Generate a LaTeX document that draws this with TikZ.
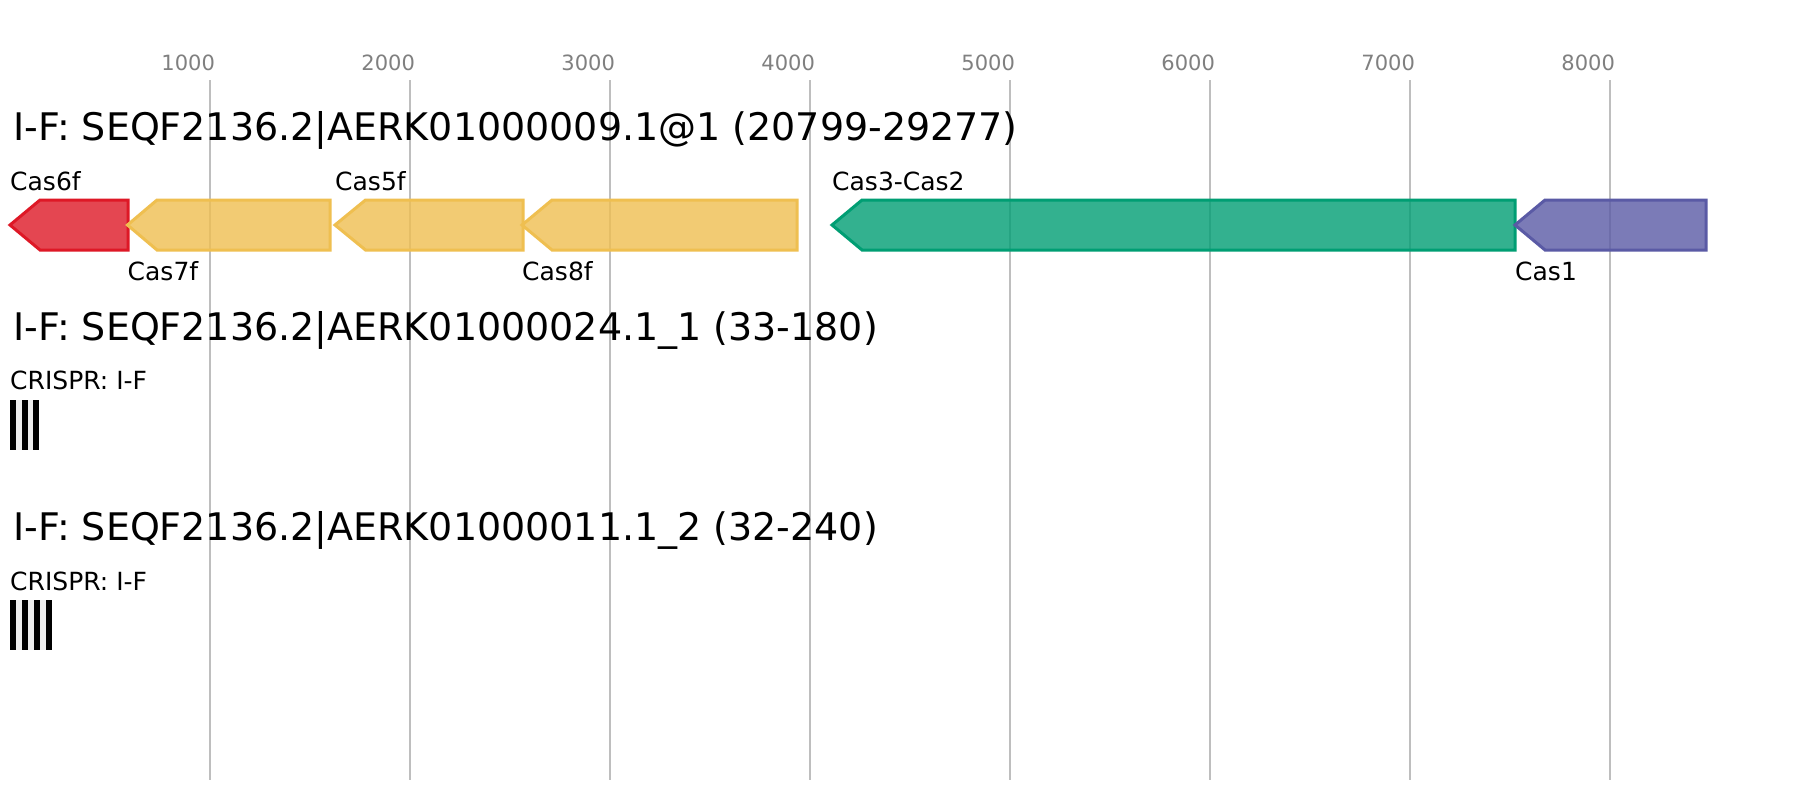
\documentclass[tikz,border=0pt]{standalone}
\usepackage{fontspec}
\setmainfont{DejaVu Sans}
\definecolor{gridc}{RGB}{190,190,190}
\definecolor{tickc}{RGB}{128,128,128}
\definecolor{cred}{RGB}{222,24,38}
\definecolor{cyel}{RGB}{239,191,80}
\definecolor{cgrn}{RGB}{0,158,115}
\definecolor{cblu}{RGB}{90,90,165}
\definecolor{crgray}{RGB}{238,238,238}
\newcommand{\genearrow}[4]{\draw[genebox,draw=#1,fill=#1] (#2,225) -- (#3,200) -- (#4,200) -- (#4,250) -- (#3,250) -- cycle;}
\newcommand{\crbar}[2]{\fill[black] (#1,#2) rectangle ++(6,50);}
\tikzset{
  gridline/.style={draw=gridc,line width=1.8pt},
  ticklbl/.style={anchor=base,inner sep=0pt,text=tickc,font=\fontsize{21}{24}\selectfont},
  titlelbl/.style={anchor=base west,inner sep=0pt,font=\fontsize{38}{42}\selectfont},
  genelbl/.style={anchor=base west,inner sep=0pt,font=\fontsize{25}{28}\selectfont},
  genebox/.style={line width=3pt,fill opacity=0.8,line join=miter}
}
\begin{document}
\begin{tikzpicture}[x=1pt,y=-1pt]
\useasboundingbox (0,0) rectangle (1796,800);
\fill[white] (0,0) rectangle (1796,800);
% grid and ticks
\foreach \k in {1,...,8}{
  \draw[gridline] (9.7+200*\k,80) -- (9.7+200*\k,779.5);
  \node[ticklbl] (tick\k) at (9.7+200*\k-21.5,70.7) {\k000};
}
% titles
\node[titlelbl] (title1) at (13,140) {I-F: SEQF2136.2|AERK01000009.1@1 (20799-29277)};
\node[titlelbl] (title2) at (13,340) {I-F: SEQF2136.2|AERK01000024.1\_1 (33-180)};
\node[titlelbl] (title3) at (13,540) {I-F: SEQF2136.2|AERK01000011.1\_2 (32-240)};
% genes
\genearrow{cred}{10}{40}{128}
\genearrow{cyel}{127.5}{157}{330}
\genearrow{cyel}{335}{365.5}{523}
\genearrow{cyel}{522}{552}{797}
\genearrow{cgrn}{832}{862}{1515}
\genearrow{cblu}{1515}{1545}{1706}
% gene labels
\node[genelbl] (l6) at (10,190) {Cas6f};
\node[genelbl] (l7) at (127.5,280) {Cas7f};
\node[genelbl] (l5) at (335,190) {Cas5f};
\node[genelbl] (l8) at (522,280) {Cas8f};
\node[genelbl] (l32) at (832,190) {Cas3-Cas2};
\node[genelbl] (l1) at (1515,280) {Cas1};
% CRISPR arrays
\node[genelbl] (cr1) at (10,389.3) {CRISPR: I-F};
\fill[crgray] (10,400) rectangle (39.3,450);
\crbar{10}{400}\crbar{21.7}{400}\crbar{33.3}{400}
\node[genelbl] (cr2) at (10,590) {CRISPR: I-F};
\fill[crgray] (10,600) rectangle (51.7,650);
\crbar{10}{600}\crbar{21.8}{600}\crbar{33.7}{600}\crbar{45.7}{600}
\end{tikzpicture}
\end{document}
